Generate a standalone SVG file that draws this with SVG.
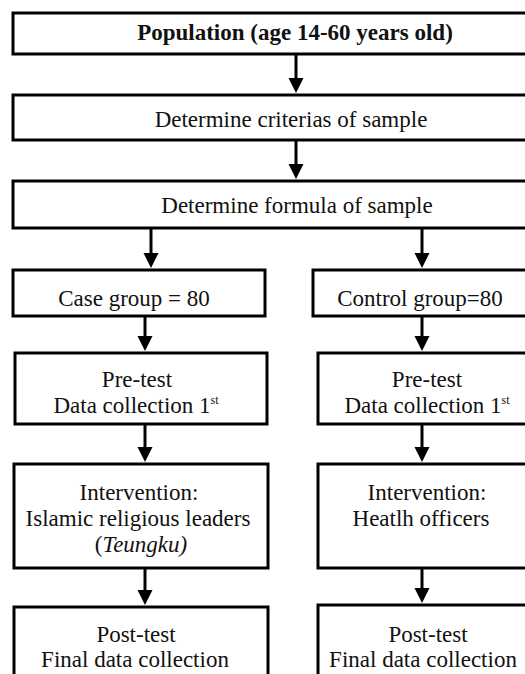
<svg xmlns="http://www.w3.org/2000/svg" width="525" height="674" viewBox="0 0 525 674">
<style>
.box{fill:#fff;stroke:#000;stroke-width:3}
.t{font-family:'Liberation Serif',Tinos,'Times New Roman','DejaVu Serif','Noto Serif',serif;font-size:23px;fill:#111;text-anchor:middle}
.b{font-weight:bold}
.c{stroke:#000;stroke-width:3;fill:none;marker-end:url(#ah)}
</style>
<defs>
<marker id="ah" markerWidth="16" markerHeight="16" refX="7" refY="7.5" orient="auto" markerUnits="userSpaceOnUse">
<path d="M0,0 L15,7.5 L0,15 Z" fill="#000"/>
</marker>
</defs>
<rect width="525" height="674" fill="#fff"/>
<g id="connectors">
<line class="c" x1="296" y1="54" x2="296" y2="85"/>
<line class="c" x1="296" y1="140" x2="296" y2="171"/>
<line class="c" x1="151" y1="228" x2="151" y2="260"/>
<line class="c" x1="422" y1="228" x2="422" y2="260"/>
<line class="c" x1="145" y1="316" x2="145" y2="343"/>
<line class="c" x1="422" y1="316" x2="422" y2="343"/>
<line class="c" x1="145" y1="424" x2="145" y2="454"/>
<line class="c" x1="422" y1="424" x2="422" y2="454"/>
<line class="c" x1="145" y1="568" x2="145" y2="597"/>
<line class="c" x1="422" y1="568" x2="422" y2="595"/>
</g>
<g id="population">
<rect class="box" x="13" y="13" width="530" height="41"/>
<text class="t b" x="295" y="40" font-family="Liberation Serif, serif">Population (age 14-60 years old)</text>
</g>
<g id="criteria">
<rect class="box" x="13" y="95" width="530" height="45"/>
<text class="t" x="291" y="127">Determine criterias of sample</text>
</g>
<g id="formula">
<rect class="box" x="13" y="181" width="530" height="47"/>
<text class="t" x="297" y="213">Determine formula of sample</text>
</g>
<g id="case-group">
<rect class="box" x="13" y="270" width="252" height="46"/>
<text class="t" x="134" y="306">Case group = 80</text>
</g>
<g id="control-group">
<rect class="box" x="313" y="270" width="230" height="46"/>
<text class="t" x="420" y="306">Control group=80</text>
</g>
<g id="case-pretest">
<rect class="box" x="15" y="353" width="252" height="71"/>
<text class="t" x="137" y="387">Pre-test</text>
<text class="t" x="136" y="413">Data collection  1<tspan font-size="12" dy="-9">st</tspan></text>
</g>
<g id="control-pretest">
<rect class="box" x="318" y="353" width="225" height="71"/>
<text class="t" x="427" y="387">Pre-test</text>
<text class="t" x="427" y="413">Data collection  1<tspan font-size="12" dy="-9">st</tspan></text>
</g>
<g id="case-intervention">
<rect class="box" x="14" y="464" width="254" height="104"/>
<text class="t" x="139" y="500">Intervention:</text>
<text class="t" x="138" y="526">Islamic religious  leaders</text>
<text class="t" x="141" y="552">(<tspan font-style="italic">Teungku)</tspan></text>
</g>
<g id="control-intervention">
<rect class="box" x="318" y="464" width="225" height="104"/>
<text class="t" x="427" y="500">Intervention:</text>
<text class="t" x="421" y="526">Heatlh officers</text>
</g>
<g id="case-posttest">
<rect class="box" x="14" y="607" width="254" height="90"/>
<text class="t" x="136" y="642">Post-test</text>
<text class="t" x="135" y="667">Final data collection</text>
</g>
<g id="control-posttest">
<rect class="box" x="318" y="605" width="225" height="90"/>
<text class="t" x="428" y="642">Post-test</text>
<text class="t" x="423" y="667">Final data collection</text>
</g>
</svg>
